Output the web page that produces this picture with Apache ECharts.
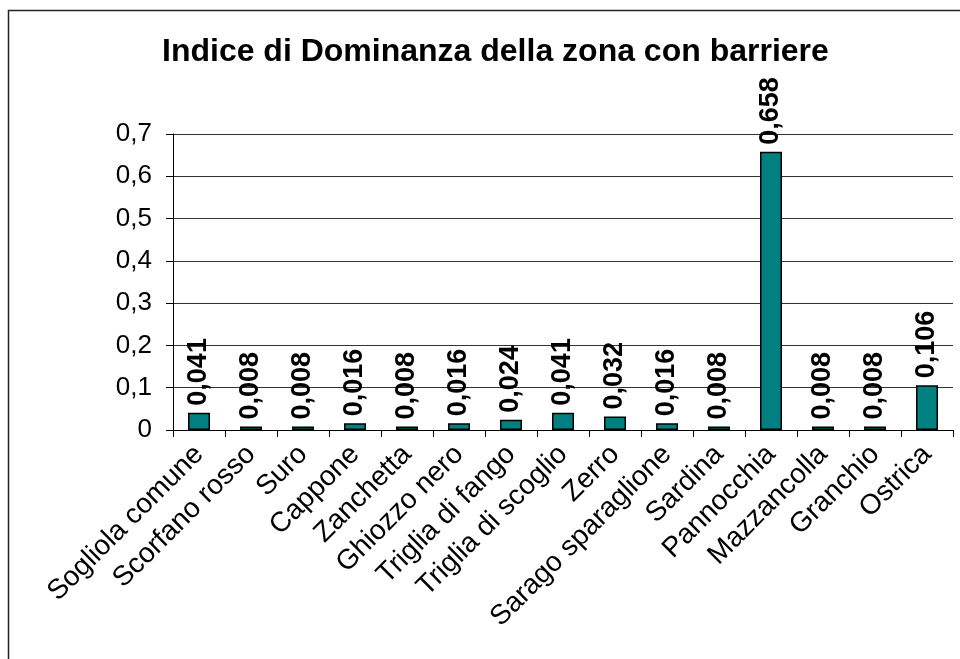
<!DOCTYPE html>
<html>
<head>
<meta charset="utf-8">
<script src="https://cdn.jsdelivr.net/npm/echarts@6/dist/echarts.min.js"></script>
<style>
  html, body { margin: 0; padding: 0; background: #fff; }
  #chart { width: 960px; height: 659px; }
</style>
</head>
<body>
<div id="chart"></div>
<script>
// Species sampled in the barrier zone
const species = [
  'Sogliola comune', 'Scorfano rosso', 'Suro', 'Cappone', 'Zanchetta',
  'Ghiozzo nero', 'Triglia di fango', 'Triglia di scoglio', 'Zerro',
  'Sarago sparaglione', 'Sardina', 'Pannocchia', 'Mazzancolla', 'Granchio', 'Ostrica'
];
// Dominance index per species
const dominance = [
  0.041, 0.008, 0.008, 0.016, 0.008,
  0.016, 0.024, 0.041, 0.032,
  0.016, 0.008, 0.658, 0.008, 0.008, 0.106
];
// Value axis range
const yMin = 0;
const yMax = 0.7;
const yStep = 0.1;

const FONT = '"Liberation Sans", Arial, sans-serif';
const comma = v => String(v).replace('.', ',');

const chart = echarts.init(document.getElementById('chart'), null, { renderer: 'canvas' });
chart.setOption({
  backgroundColor: '#ffffff',
  animation: false,
  title: {
    text: 'Indice di Dominanza della zona con barriere',
    left: 157,
    top: 31,
    textStyle: { fontFamily: FONT, fontSize: 32, fontWeight: 'bold', color: '#000' }
  },
  graphic: [{
    type: 'rect',
    silent: true,
    shape: { x: 8.5, y: 10.5, width: 1000, height: 1000 },
    style: { fill: 'none', stroke: '#222', lineWidth: 1.5 }
  }],
  grid: { left: 173, right: 7, top: 134, bottom: 229, containLabel: false },
  xAxis: {
    type: 'category',
    data: species,
    axisLine: { lineStyle: { color: '#000', width: 1 } },
    axisTick: { show: true, length: 7, interval: 0, alignWithLabel: false, lineStyle: { color: '#000' } },
    axisLabel: {
      interval: 0,
      rotate: 45,
      margin: 20,
      fontFamily: FONT,
      fontSize: 28,
      color: '#000'
    }
  },
  yAxis: {
    type: 'value',
    min: yMin,
    max: yMax,
    interval: yStep,
    axisLine: { show: true, lineStyle: { color: '#000', width: 1 } },
    axisTick: { show: true, length: 7, lineStyle: { color: '#000' } },
    splitLine: { show: true, lineStyle: { color: '#333', width: 1 } },
    axisLabel: {
      margin: 21,
      fontFamily: FONT,
      fontSize: 26,
      color: '#000',
      formatter: v => comma(Math.round(v * 10) / 10)
    }
  },
  series: [{
    type: 'bar',
    data: dominance,
    barWidth: 22,
    itemStyle: { color: '#008080', borderColor: '#000', borderWidth: 1.5 },
    label: {
      show: true,
      position: 'top',
      rotate: 90,
      align: 'left',
      verticalAlign: 'middle',
      distance: 7,
      fontFamily: FONT,
      fontSize: 27,
      fontWeight: 'bold',
      color: '#000',
      formatter: p => comma(p.value.toFixed(3))
    }
  }]
});
</script>
</body>
</html>
